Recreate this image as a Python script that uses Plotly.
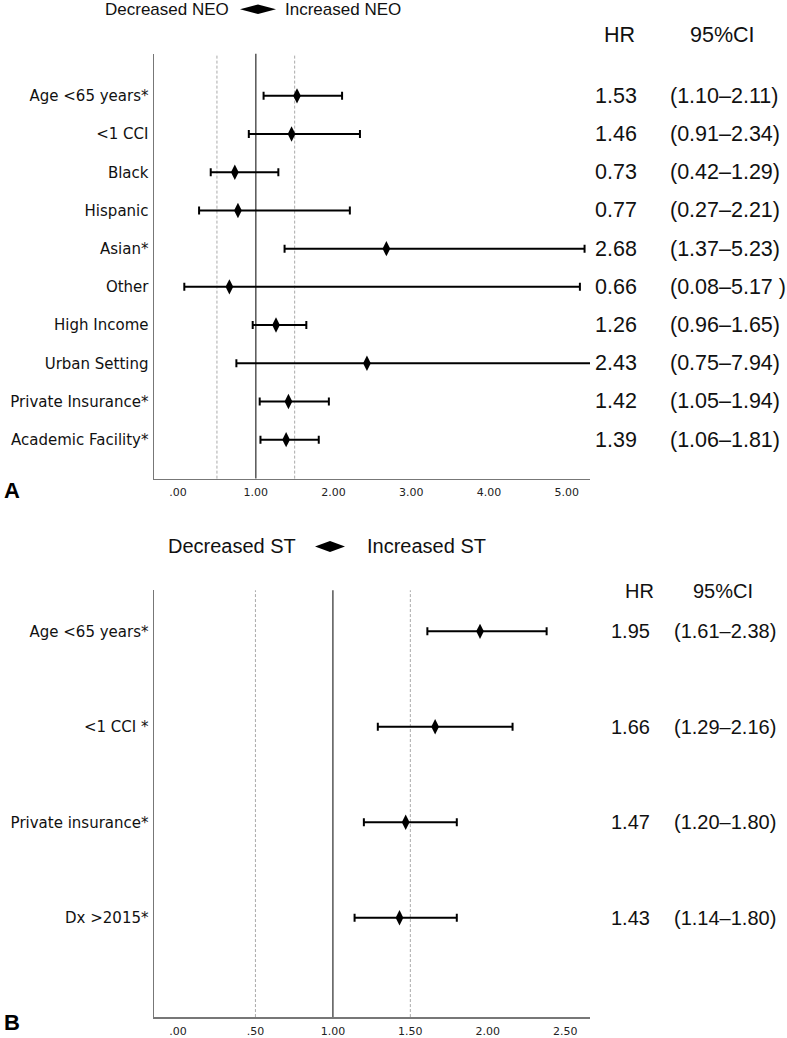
import plotly.graph_objects as go

W, H = 787, 1038

# ---------------- Panel A data ----------------
a_labels = ["Age <65 years*", "<1 CCI", "Black", "Hispanic", "Asian*", "Other",
            "High Income", "Urban Setting", "Private Insurance*", "Academic Facility*"]
a_hr = [1.53, 1.46, 0.73, 0.77, 2.68, 0.66, 1.26, 2.43, 1.42, 1.39]
a_lo = [1.10, 0.91, 0.42, 0.27, 1.37, 0.08, 0.96, 0.75, 1.05, 1.06]
a_hi = [2.11, 2.34, 1.29, 2.21, 5.23, 5.17, 1.65, 7.94, 1.94, 1.81]
a_ci_text = ["(1.10–2.11)", "(0.91–2.34)", "(0.42–1.29)", "(0.27–2.21)", "(1.37–5.23)",
             "(0.08–5.17 )", "(0.96–1.65)", "(0.75–7.94)", "(1.05–1.94)", "(1.06–1.81)"]
a_tickvals = [0, 1, 2, 3, 4, 5]
a_ticktext = [".00", "1.00", "2.00", "3.00", "4.00", "5.00"]

# ---------------- Panel B data ----------------
b_labels = ["Age <65 years*", "<1 CCI *", "Private insurance*", "Dx >2015*"]
b_hr = [1.95, 1.66, 1.47, 1.43]
b_lo = [1.61, 1.29, 1.20, 1.14]
b_hi = [2.38, 2.16, 1.80, 1.80]
b_ci_text = ["(1.61–2.38)", "(1.29–2.16)", "(1.20–1.80)", "(1.14–1.80)"]
b_tickvals = [0, 0.5, 1.0, 1.5, 2.0, 2.5]
b_ticktext = [".00", ".50", "1.00", "1.50", "2.00", "2.50"]

ref_solid = 1.0
ref_dashed = [0.5, 1.5]


def px(x):
    return x / W


def py(y):
    return 1 - y / H


LABEL_FONT = dict(family="DejaVu Sans", size=15, color="#111")
TICK_FONT = dict(family="DejaVu Sans", size=11, color="#222")
HELV = "Liberation Sans, Arial, Helvetica"

fig = go.Figure()

fig.add_trace(go.Scatter(
    x=a_hr, y=a_labels, mode="markers", xaxis="x", yaxis="y",
    marker=dict(symbol="diamond-tall", size=11, color="black"),
    error_x=dict(type="data", symmetric=False,
                 array=[h - m for h, m in zip(a_hi, a_hr)],
                 arrayminus=[m - l for m, l in zip(a_hr, a_lo)],
                 color="black", thickness=2, width=4),
    showlegend=False, hoverinfo="skip"))

fig.add_trace(go.Scatter(
    x=b_hr, y=b_labels, mode="markers", xaxis="x2", yaxis="y2",
    marker=dict(symbol="diamond-tall", size=11, color="black"),
    error_x=dict(type="data", symmetric=False,
                 array=[h - m for h, m in zip(b_hi, b_hr)],
                 arrayminus=[m - l for m, l in zip(b_hr, b_lo)],
                 color="black", thickness=2, width=4),
    showlegend=False, hoverinfo="skip"))

axis_common = dict(showline=True, linecolor="#777", linewidth=1.5, showgrid=False,
                   zeroline=False, ticks="", fixedrange=True)

fig.update_layout(
    width=W, height=H, autosize=False,
    margin=dict(l=0, r=0, t=0, b=0),
    paper_bgcolor="white", plot_bgcolor="white",
    xaxis=dict(domain=[px(154), px(590)], range=[-0.31, 5.3], anchor="y",
               tickvals=a_tickvals, ticktext=a_ticktext, tickfont=TICK_FONT,
               ticklabelstandoff=3, **axis_common),
    yaxis=dict(domain=[py(480), py(54)], range=[10.02, -1.1], anchor="x",
               type="category", tickfont=LABEL_FONT, ticklabelstandoff=1, **axis_common),
    xaxis2=dict(domain=[px(154), px(590)], range=[-0.155, 2.66], anchor="y2",
                tickvals=b_tickvals, ticktext=b_ticktext, tickfont=TICK_FONT,
                ticklabelstandoff=3, **axis_common),
    yaxis2=dict(domain=[py(1020), py(592)], range=[4.04, -0.43], anchor="x2",
                type="category", tickfont=LABEL_FONT, ticklabelstandoff=1, **axis_common),
)

shapes = []
for xr, yr in (("x", "y domain"), ("x2", "y2 domain")):
    shapes.append(dict(type="line", xref=xr, yref=yr, x0=ref_solid, x1=ref_solid, y0=0, y1=1,
                       line=dict(color="#555", width=1.5), layer="below"))
    for v in ref_dashed:
        shapes.append(dict(type="line", xref=xr, yref=yr, x0=v, x1=v, y0=0, y1=1,
                           line=dict(color="#aaa", width=1, dash="3px,2px"), layer="below"))


def diamond(x0, x1, y0, y1):
    xc = (x0 + x1) / 2
    yc = (y0 + y1) / 2
    return dict(type="path", xref="paper", yref="paper",
                path=f"M {px(x0)},{py(yc)} L {px(xc)},{py(y0)} L {px(x1)},{py(yc)} L {px(xc)},{py(y1)} Z",
                fillcolor="black", line=dict(color="black", width=0))


shapes.append(diamond(240, 276, 4.5, 14))
shapes.append(diamond(315, 345, 542.5, 553.5))
fig.update_layout(shapes=shapes)

ann = []
# Titles
ann.append(dict(text="Decreased NEO", x=px(231), y=py(9.5), xref="paper", yref="paper",
                xanchor="right", yanchor="middle", showarrow=False,
                font=dict(family=HELV, size=17, color="#111")))
ann.append(dict(text="Increased NEO", x=px(283), y=py(9.5), xref="paper", yref="paper",
                xanchor="left", yanchor="middle", showarrow=False,
                font=dict(family=HELV, size=17, color="#111")))
ann.append(dict(text="Decreased ST", x=px(298), y=py(548), xref="paper", yref="paper",
                xanchor="right", yanchor="middle", showarrow=False,
                font=dict(family=HELV, size=20, color="#111")))
ann.append(dict(text="Increased ST", x=px(365), y=py(548), xref="paper", yref="paper",
                xanchor="left", yanchor="middle", showarrow=False,
                font=dict(family=HELV, size=20, color="#111")))

# Headers
for txt, xc, yc, sz in (("HR", 619, 35, 21.5), ("95%CI", 722, 35, 21.5),
                         ("HR", 639, 593, 20), ("95%CI", 723, 593, 20)):
    ann.append(dict(text=txt, x=px(xc), y=py(yc), xref="paper", yref="paper",
                    xanchor="center", yanchor="middle", showarrow=False,
                    font=dict(family=HELV, size=sz, color="#111")))

# Row values
for lab, hr, ci in zip(a_labels, a_hr, a_ci_text):
    ann.append(dict(text=f"{hr:.2f}", x=px(616), y=lab, xref="paper", yref="y",
                    xanchor="center", yanchor="middle", showarrow=False,
                    font=dict(family=HELV, size=21.5, color="#111")))
    ann.append(dict(text=ci, x=px(668), y=lab, xref="paper", yref="y",
                    xanchor="left", yanchor="middle", showarrow=False,
                    font=dict(family=HELV, size=21.5, color="#111")))
for lab, hr, ci in zip(b_labels, b_hr, b_ci_text):
    ann.append(dict(text=f"{hr:.2f}", x=px(630), y=lab, xref="paper", yref="y2",
                    xanchor="center", yanchor="middle", showarrow=False,
                    font=dict(family=HELV, size=20, color="#111")))
    ann.append(dict(text=ci, x=px(672), y=lab, xref="paper", yref="y2",
                    xanchor="left", yanchor="middle", showarrow=False,
                    font=dict(family=HELV, size=20, color="#111")))

# Panel letters
ann.append(dict(text="<b>A</b>", x=px(2), y=py(492), xref="paper", yref="paper",
                xanchor="left", yanchor="middle", showarrow=False,
                font=dict(family=HELV, size=22, color="#000")))
ann.append(dict(text="<b>B</b>", x=px(2), y=py(1025), xref="paper", yref="paper",
                xanchor="left", yanchor="middle", showarrow=False,
                font=dict(family=HELV, size=22, color="#000")))

fig.update_layout(annotations=ann)

fig.write_html(
    "out.html",
    config={"displayModeBar": False, "staticPlot": True},
    post_script="document.body.style.margin='0';document.body.style.padding='0';"
                "document.documentElement.style.overflow='hidden';",
)
